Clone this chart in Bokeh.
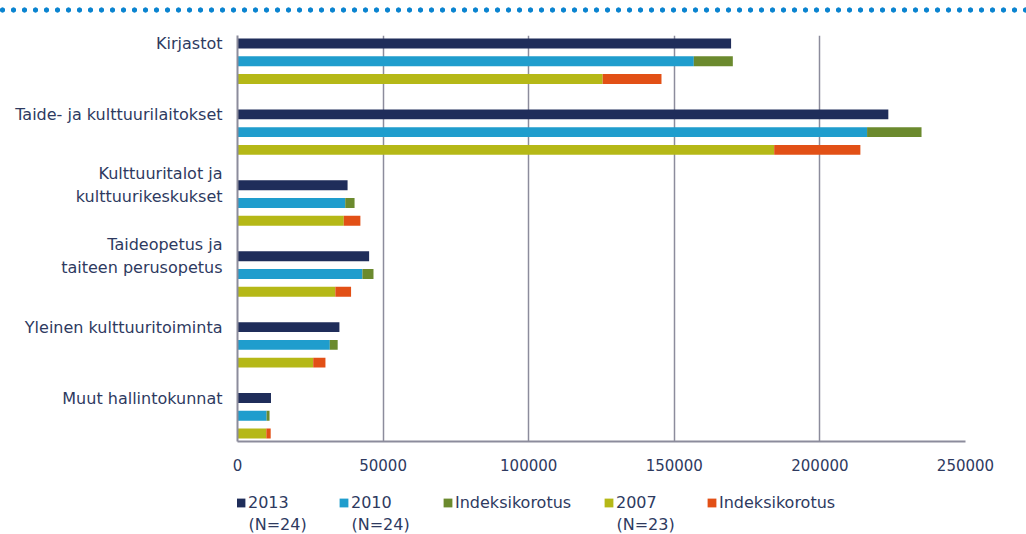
from bokeh.plotting import figure
from bokeh.models import (ColumnDataSource, Range1d, FixedTicker, NumeralTickFormatter,
                          Legend, LegendItem, Label, Div)
from bokeh.layouts import column
from bokeh.embed import file_html
from bokeh.resources import INLINE

# ---- data (euros) ----
categories = ["Kirjastot", "Taide- ja kulttuurilaitokset", "Kulttuuritalot ja\nkulttuurikeskukset",
              "Taideopetus ja\ntaiteen perusopetus", "Yleinen kulttuuritoiminta", "Muut hallintokunnat"]
v2013 = [169500, 223500, 37800, 45200, 35000, 11500]
v2010 = [156700, 216200, 37000, 42900, 31700, 10000]
idx2010 = [13400, 18700, 3200, 3800, 2700, 1000]
v2007 = [125400, 184300, 36500, 33600, 26000, 9900]
idx2007 = [20200, 29600, 5700, 5400, 4200, 1500]
x_ticks = [0, 50000, 100000, 150000, 200000, 250000]
legend_labels = ["2013", "2010", "Indeksikorotus", "2007", "Indeksikorotus"]
legend_notes = ["(N=24)", "(N=24)", "", "(N=23)", ""]

C2013, C2010, CIDX10, C2007, CIDX07 = "#1f2d5a", "#1f9dcd", "#6b8a2e", "#b5b817", "#e25016"
TXT = "#2e3a5f"
GRID = "#8c8c9c"
FONT = "DejaVu Sans"

n = len(categories)
pos = [g * 4 for g in range(n)]
y13 = [p + 0 for p in pos]
y10 = [p + 1 for p in pos]
y07 = [p + 2 for p in pos]

# ---- top dotted rule (decoration) ----
top = Div(text="", width=1026, height=20, margin=(0, 0, 0, 0), styles={
    "background-image": "radial-gradient(circle, #0a84d0 2.3px, rgba(255,255,255,0) 2.9px)",
    "background-size": "11px 20px",
    "background-repeat": "repeat-x",
    "background-position": "-3px 0px",
    "width": "1026px", "height": "20px"})

src13 = ColumnDataSource(dict(y=y13, right=v2013))
src10 = ColumnDataSource(dict(y=y10, right=v2010, tot=[a + b for a, b in zip(v2010, idx2010)]))
src07 = ColumnDataSource(dict(y=y07, right=v2007, tot=[a + b for a, b in zip(v2007, idx2007)]))
H = 0.56


def add_bars(fig, visible=True):
    rs = [
        fig.hbar(y="y", left=0, right="right", height=H, source=src13, fill_color=C2013, line_color=None),
        fig.hbar(y="y", left=0, right="right", height=H, source=src10, fill_color=C2010, line_color=None),
        fig.hbar(y="y", left="right", right="tot", height=H, source=src10, fill_color=CIDX10, line_color=None),
        fig.hbar(y="y", left=0, right="right", height=H, source=src07, fill_color=C2007, line_color=None),
        fig.hbar(y="y", left="right", right="tot", height=H, source=src07, fill_color=CIDX07, line_color=None),
    ]
    for r in rs:
        r.visible = visible
    return rs


# ---- main chart ----
p = figure(width=1026, height=465, output_backend="svg", toolbar_location=None,
           x_range=Range1d(0, 250000), y_range=Range1d(22.45, -0.45),
           min_border_left=237, min_border_right=61, min_border_top=15, min_border_bottom=44)
p.outline_line_color = None
add_bars(p)

p.xaxis.ticker = FixedTicker(ticks=x_ticks)
p.xaxis.formatter = NumeralTickFormatter(format="0")
p.xaxis.major_tick_line_color = None
p.xaxis.minor_tick_line_color = None
p.xaxis.axis_line_color = GRID
p.xaxis.axis_line_width = 2
p.xaxis.major_label_text_font = FONT
p.xaxis.major_label_text_font_size = "15px"
p.xaxis.major_label_text_color = TXT
p.xaxis.major_label_standoff = 11

p.yaxis.ticker = FixedTicker(ticks=pos)
p.yaxis.major_label_overrides = {pv: c for pv, c in zip(pos, categories)}
p.yaxis.major_tick_line_color = None
p.yaxis.minor_tick_line_color = None
p.yaxis.axis_line_color = GRID
p.yaxis.axis_line_width = 2
p.yaxis.major_label_text_font = FONT
p.yaxis.major_label_text_font_size = "16px"
p.yaxis.major_label_text_color = TXT
p.yaxis.major_label_standoff = 9
p.yaxis.major_label_text_align = "right"

p.ygrid.visible = False
p.xgrid.grid_line_color = GRID
p.xgrid.grid_line_width = 1.5

# ---- legend strip (same series, renderers hidden; only the legend shows) ----
lg = figure(width=1026, height=49, output_backend="svg", toolbar_location=None,
            x_range=Range1d(0, 250000), y_range=Range1d(100, 101),
            min_border_left=237, min_border_right=61, min_border_top=0, min_border_bottom=0)
lg.axis.visible = False
lg.grid.visible = False
lg.outline_line_color = None
lrs = add_bars(lg, visible=False)

leg_x = [-2, 101, 205, 366, 469]
for r, lab, lx in zip(lrs, legend_labels, leg_x):
    L = Legend(items=[LegendItem(label=lab, renderers=[r])], location=(lx, 22),
               orientation="horizontal", glyph_width=11, glyph_height=11, label_standoff=2,
               label_height=18, padding=0, margin=0, border_line_color=None,
               background_fill_alpha=0, inactive_fill_alpha=0,
               label_text_font=FONT, label_text_font_size="16px", label_text_color=TXT)
    lg.add_layout(L, "center")
for note, lx in zip(legend_notes, leg_x):
    if note:
        lg.add_layout(Label(x=lx + 13, y=10, x_units="screen", y_units="screen", text=note,
                            text_font=FONT, text_font_size="16px", text_color=TXT,
                            text_baseline="middle"))

layout = column(top, p, lg)
open("out.html", "w").write(file_html(layout, INLINE))
